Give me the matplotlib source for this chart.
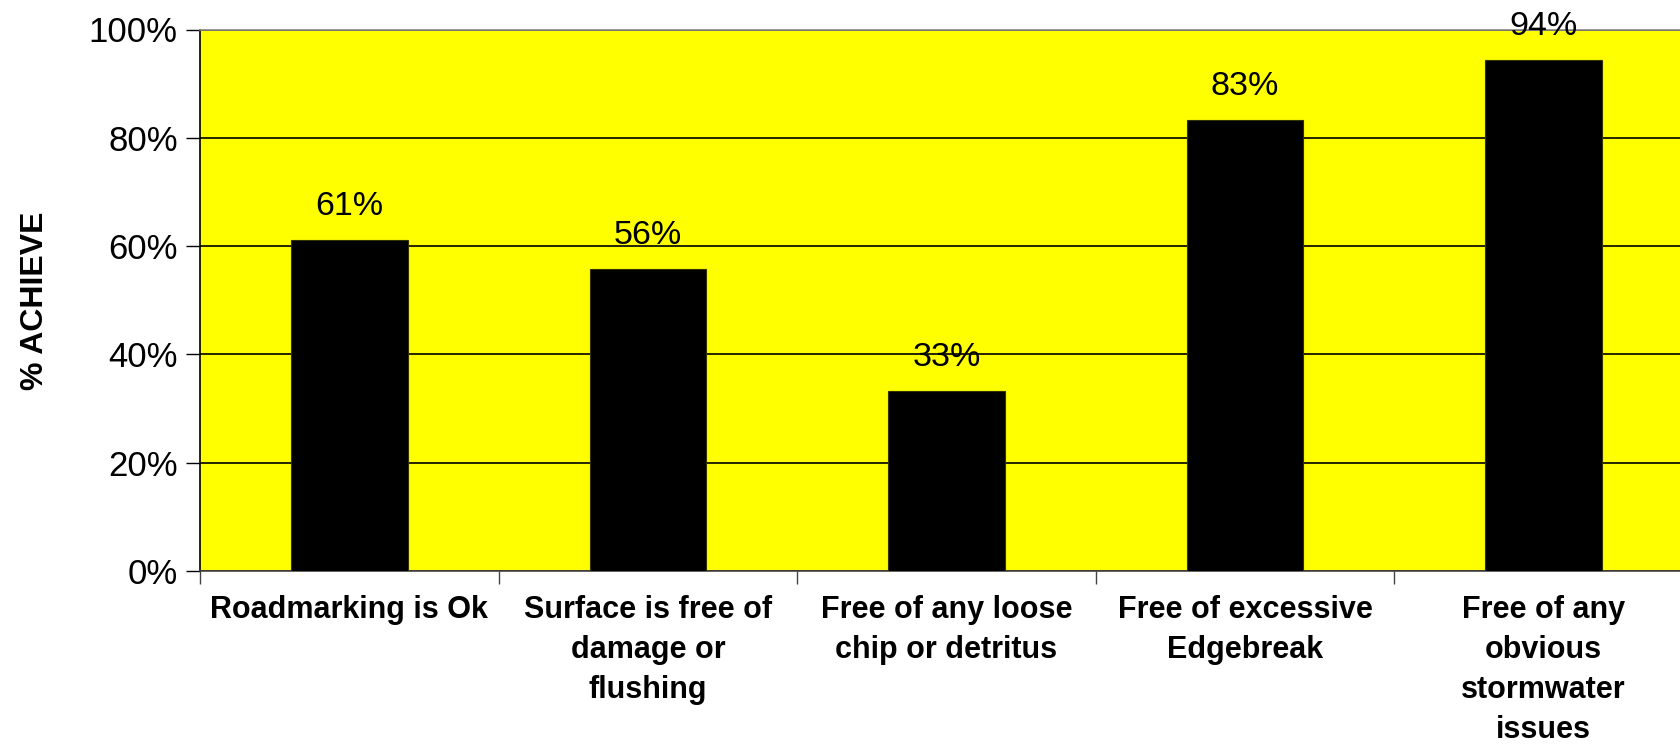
import matplotlib
matplotlib.use("Agg")
import matplotlib.pyplot as plt
import numpy as np

categories = ["Roadmarking is Ok", "Surface is free of\ndamage or\nflushing",
              "Free of any loose\nchip or detritus", "Free of excessive\nEdgebreak",
              "Free of any\nobvious\nstormwater\nissues"]
values = [0.611, 0.558, 0.333, 0.832, 0.944]
yticks = [0, 0.2, 0.4, 0.6, 0.8, 1.0]
ytick_labels = ["0%", "20%", "40%", "60%", "80%", "100%"]

plt.rcParams['font.family'] = ['Liberation Sans', 'DejaVu Sans']

fig = plt.figure(figsize=(16.81, 7.47), dpi=100)
ax = fig.add_axes([200/1681, 1-571/747, 1493/1681, (571-29.5)/747])
ax.set_facecolor('#FFFF00')

x = np.arange(len(categories))
bars = ax.bar(x, values, width=0.39, color='black', edgecolor='#333300', linewidth=0.8, zorder=3)
for xi, v in zip(x, values):
    ax.annotate(f"{v*100:.0f}%", (xi, v), xytext=(0, 13), textcoords='offset points',
                ha='center', va='bottom', fontsize=24.5, color='black', zorder=4)

ax.set_xlim(-0.5, len(categories) - 0.5)
ax.set_ylim(0, 1.0)
ax.set_yticks(yticks)
ax.set_yticklabels(ytick_labels, fontsize=25)
ax.yaxis.grid(True, color='black', linewidth=1.2, zorder=1)
ax.set_axisbelow(True)

ax.set_xticks(np.arange(len(categories) + 1) - 0.5)
ax.set_xticklabels([])
ax.set_xticks(x, minor=True)
ax.set_xticklabels(categories, minor=True, fontsize=22, fontweight='bold', linespacing=1.44, va='top')
ax.tick_params(axis='x', which='minor', length=0, pad=17)
ax.tick_params(axis='x', which='major', length=9, width=1, color='#444444', direction='out')
ax.tick_params(axis='y', length=10, width=1, direction='out', pad=6)

ax.set_ylabel("% ACHIEVE", fontsize=23, fontweight='bold', labelpad=28)

for s in ['top', 'right']:
    ax.spines[s].set_color('#888888')
ax.spines['left'].set_color('black')
ax.spines['bottom'].set_color('#444444')
for s in ax.spines.values():
    s.set_linewidth(1.2)

fig.savefig("out.png", dpi=100)
